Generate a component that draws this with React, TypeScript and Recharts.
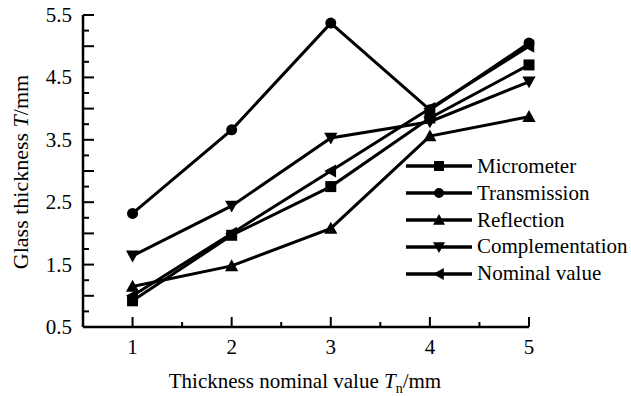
import React from "react";
import { Label, Legend, Line, LineChart, XAxis, YAxis } from "recharts";

const FONT = '"Liberation Serif", "Times New Roman", serif';

// thickness nominal value T_n (mm)
const nominalX = [1, 2, 3, 4, 5];
// measured glass thickness T (mm) per method
const micrometer = [0.92, 1.97, 2.75, 3.85, 4.7];
const transmission = [2.32, 3.66, 5.37, 3.98, 5.05];
const reflection = [1.15, 1.48, 2.08, 3.56, 3.87];
const complementation = [1.64, 2.44, 3.53, 3.79, 4.43];
const nominalValue = [1.0, 2.0, 3.0, 4.0, 5.0];

const xTicks = [1, 1.5, 2, 2.5, 3, 3.5, 4, 4.5, 5];
const yTicks = [
  0.5, 0.75, 1, 1.25, 1.5, 1.75, 2, 2.25, 2.5, 2.75, 3, 3.25, 3.5, 3.75, 4,
  4.25, 4.5, 4.75, 5, 5.25, 5.5,
];
const yLabels = [0.5, 1.5, 2.5, 3.5, 4.5, 5.5];

type Shape = "square" | "circle" | "up" | "down" | "left";

const SERIES: { key: string; name: string; shape: Shape; values: number[] }[] = [
  { key: "mic", name: "Micrometer", shape: "square", values: micrometer },
  { key: "tra", name: "Transmission", shape: "circle", values: transmission },
  { key: "ref", name: "Reflection", shape: "up", values: reflection },
  { key: "com", name: "Complementation", shape: "down", values: complementation },
  { key: "nom", name: "Nominal value", shape: "left", values: nominalValue },
];

const rows = nominalX.map((x, i) => {
  const r: Record<string, number> = { x };
  SERIES.forEach((s) => (r[s.key] = s.values[i]));
  return r;
});

function marker(shape: Shape, cx: number, cy: number, s: number, key?: string) {
  if (shape === "square")
    return <rect key={key} x={cx - s / 2} y={cy - s / 2} width={s} height={s} fill="#000" />;
  if (shape === "circle") return <circle key={key} cx={cx} cy={cy} r={s / 2} fill="#000" />;
  const h = s * 0.6;
  let pts = "";
  if (shape === "up") pts = `${cx},${cy - h} ${cx - h},${cy + h * 0.8} ${cx + h},${cy + h * 0.8}`;
  if (shape === "down") pts = `${cx},${cy + h} ${cx - h},${cy - h * 0.8} ${cx + h},${cy - h * 0.8}`;
  if (shape === "left") pts = `${cx - h},${cy} ${cx + h * 0.8},${cy - h} ${cx + h * 0.8},${cy + h}`;
  return <polygon key={key} points={pts} fill="#000" />;
}

const dotFor = (shape: Shape) => (p: any) => marker(shape, p.cx, p.cy, 11, `${shape}-${p.index}`);

function XTick({ x, y, payload }: any) {
  const v = payload.value as number;
  const major = Number.isInteger(v);
  return (
    <g>
      <line x1={x} x2={x} y1={y} y2={y - (major ? 10 : 5)} stroke="#000" strokeWidth={2} />
      {major && (
        <text x={x} y={y + 27} textAnchor="middle" fontSize={21} fontFamily={FONT} fill="#000">
          {v}
        </text>
      )}
    </g>
  );
}

function YTick({ x, y, payload }: any) {
  const v = payload.value as number;
  const major = Math.abs(v * 2 - Math.round(v * 2)) < 1e-6;
  const labelled = yLabels.includes(v);
  return (
    <g>
      <line x1={x} x2={x + (major ? 11 : 6)} y1={y} y2={y} stroke="#000" strokeWidth={2} />
      {labelled && (
        <text x={x - 11} y={y + 7} textAnchor="end" fontSize={21} fontFamily={FONT} fill="#000">
          {v.toFixed(1)}
        </text>
      )}
    </g>
  );
}

function LegendBox() {
  return (
    <div style={{ fontFamily: FONT, fontSize: 21, color: "#000" }}>
      {SERIES.map((s) => (
        <div key={s.key} style={{ display: "flex", alignItems: "center", height: 26.8 }}>
          <svg width={71} height={24} style={{ display: "block" }}>
            <line x1={0} x2={66} y1={12} y2={12} stroke="#000" strokeWidth={3.5} />
            {marker(s.shape, 33, 12, 10)}
          </svg>
          <span style={{ lineHeight: "26.8px" }}>{s.name}</span>
        </div>
      ))}
    </div>
  );
}

export default function App() {
  return (
    <div style={{ position: "fixed", left: 0, top: 0, background: "#fff" }}>
      <LineChart
        width={631}
        height={396}
        data={rows}
        margin={{ top: 15, right: 102, bottom: 0, left: 0 }}
        style={{ fontFamily: FONT }}
      >
        <XAxis
          dataKey="x"
          type="number"
          domain={[0.5, 5]}
          ticks={xTicks}
          height={69}
          tickSize={0}
          tickMargin={0}
          tickLine={false}
          tick={<XTick />}
          axisLine={{ stroke: "#000", strokeWidth: 2.5 }}
          interval={0}
        >
          <Label
            content={() => (
              <text x={305} y={388} textAnchor="middle" fontSize={21} fontFamily={FONT} fill="#000">
                Thickness nominal value{" "}
                <tspan fontStyle="italic">T</tspan>
                <tspan fontSize={14} dy={5}>n</tspan>
                <tspan dy={-5}>/mm</tspan>
              </text>
            )}
          />
        </XAxis>
        <YAxis
          type="number"
          domain={[0.5, 5.5]}
          ticks={yTicks}
          width={83}
          tickSize={0}
          tickMargin={0}
          tickLine={false}
          tick={<YTick />}
          axisLine={{ stroke: "#000", strokeWidth: 2.5 }}
          interval={0}
        >
          <Label
            content={() => (
              <text
                x={28}
                y={172}
                transform="rotate(-90 28 172)"
                textAnchor="middle"
                fontSize={22}
                fontFamily={FONT}
                fill="#000"
              >
                Glass thickness <tspan fontStyle="italic">T</tspan>/mm
              </text>
            )}
          />
        </YAxis>
        <Legend
          layout="vertical"
          align="center"
          verticalAlign="middle"
          content={<LegendBox />}
          wrapperStyle={{ left: 406, top: 153, width: 225 }}
        />
        {SERIES.map((s) => (
          <Line
            key={s.key}
            dataKey={s.key}
            name={s.name}
            stroke="#000"
            strokeWidth={3}
            dot={dotFor(s.shape)}
            activeDot={false}
            isAnimationActive={false}
          />
        ))}
      </LineChart>
    </div>
  );
}
